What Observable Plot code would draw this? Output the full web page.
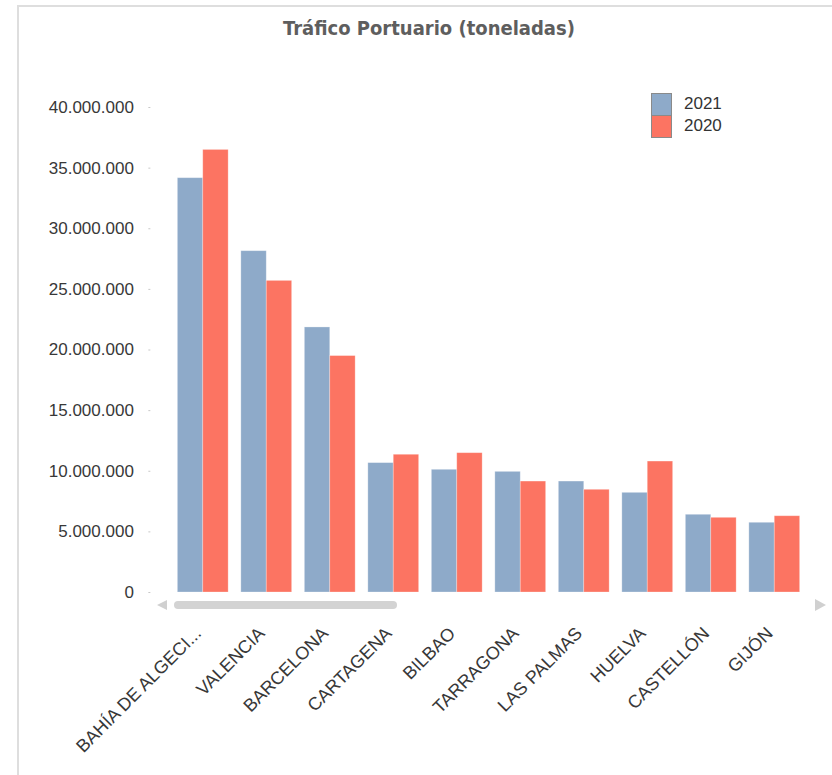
<!DOCTYPE html>
<html>
<head>
<meta charset="utf-8">
<script src="https://cdn.jsdelivr.net/npm/d3@7"></script>
<script src="https://cdn.jsdelivr.net/npm/@observablehq/plot@0.6"></script>
<style>
  html, body { margin: 0; padding: 0; background: #fff; }
  #wrap { position: relative; width: 832px; height: 775px; overflow: hidden; font-family: "Liberation Sans", Arial, sans-serif; }
  #frame { position: absolute; left: 17px; top: 5px; width: 830px; height: 800px; border-left: 2px solid #dedede; border-top: 2px solid #dedede; }
  #title { position: absolute; left: 18px; width: 822px; top: 16px; line-height: 24px; text-align: center; font-family: "Liberation Sans Narrow", "DejaVu Sans Condensed", sans-serif; font-weight: bold; font-size: 20px; color: #5e5e5e; }
  #legend { position: absolute; left: 651px; top: 93px; font-size: 17px; color: #333; }
  .li { display: flex; align-items: center; height: 22px; }
  .sw { width: 19px; height: 21px; border: 1px solid #8a8a8a; margin-right: 12px; box-sizing: content-box; }
  #plot { position: absolute; left: 0; top: 0; }
  #scroll { position: absolute; left: 0; top: 0; }
</style>
</head>
<body>
<div id="wrap">
  <div id="frame"></div>
  <div id="plot"></div>
  <svg id="scroll" width="832" height="775">
    <polygon points="167,600 167,610 157,605" fill="#d0d0d0"></polygon>
    <rect x="174" y="601" width="223" height="8" rx="4" fill="#d3d3d3"></rect>
    <polygon points="815,599 815,611 826,605" fill="#d0d0d0"></polygon>
  </svg>
  <div id="title">Tráfico Portuario (toneladas)</div>
  <div id="legend"></div>
</div>
<script>
const ports = ["BAHÍA DE ALGECIRAS", "VALENCIA", "BARCELONA", "CARTAGENA", "BILBAO", "TARRAGONA", "LAS PALMAS", "HUELVA", "CASTELLÓN", "GIJÓN"];
const series = ["2021", "2020"];
const values2021 = [34170000, 28150000, 21860000, 10670000, 10120000, 9950000, 9150000, 8220000, 6410000, 5750000];
const values2020 = [36500000, 25700000, 19500000, 11360000, 11490000, 9150000, 8470000, 10800000, 6160000, 6290000];
const yTicks = [0, 5000000, 10000000, 15000000, 20000000, 25000000, 30000000, 35000000, 40000000];
const colors = ["#8eaac9", "#fc7462"];

const data = [];
ports.forEach((p, i) => {
  data.push({port: p, year: series[0], value: values2021[i]});
  data.push({port: p, year: series[1], value: values2020[i]});
});

const loc = d3.formatLocale({decimal: ",", thousands: ".", grouping: [3], currency: ["", "€"]});
const fmt = loc.format(",d");

const chart = Plot.plot({
  width: 832,
  height: 775,
  marginTop: 107,
  marginBottom: 183,
  marginLeft: 171,
  marginRight: 26,
  style: {fontFamily: "'Liberation Sans', Arial, sans-serif", fontSize: "17px", color: "#333", background: "transparent"},
  fx: {domain: ports, paddingInner: 0.2, paddingOuter: 0.1, round: false, label: null},
  x: {domain: series, padding: 0, round: false, axis: null},
  y: {domain: [0, 40000000], label: null},
  color: {domain: series, range: colors},
  marks: [
    Plot.barY(data, {fx: "port", x: "year", y: "value", fill: "year", stroke: "#ffffff", strokeOpacity: 0.35, strokeWidth: 0.8}),
    Plot.axisY({ticks: yTicks, tickFormat: fmt, tickSize: 2, tickPadding: 15, dx: -27, stroke: "#c8c8c8", fill: "#383838", label: null}),
    Plot.axisFx({anchor: "bottom", tickRotate: -45, tickSize: 0, tickPadding: 38, dx: -5, fontSize: 18, fill: "#383838", label: null,
      tickFormat: d => d.length > 16 ? d.slice(0, 15) + "..." : d})
  ]
});
document.getElementById("plot").appendChild(chart);

const legend = document.getElementById("legend");
series.forEach((s, i) => {
  const row = document.createElement("div");
  row.className = "li";
  const sw = document.createElement("div");
  sw.className = "sw";
  sw.style.background = colors[i];
  const t = document.createElement("span");
  t.textContent = s;
  row.appendChild(sw);
  row.appendChild(t);
  legend.appendChild(row);
});
</script>
</body>
</html>
